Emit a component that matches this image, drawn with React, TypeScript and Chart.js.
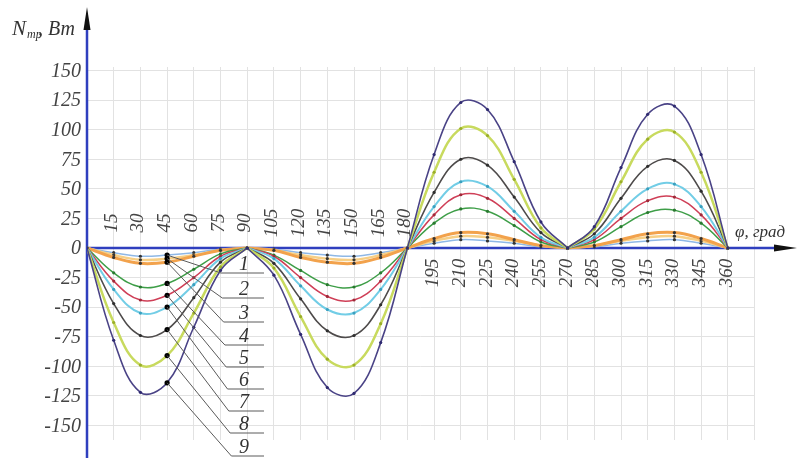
import React, { useEffect, useRef } from "react";
import { Chart, registerables } from "chart.js";

Chart.register(...registerables);

const angles = [0, 15, 30, 45, 60, 75, 90, 105, 120, 135, 150, 165, 180, 195, 210, 225, 240, 255, 270, 285, 300, 315, 330, 345, 360];
const xTicksAbove = [15, 30, 45, 60, 75, 90, 105, 120, 135, 150, 165, 180];
const xTicksBelow = [195, 210, 225, 240, 255, 270, 285, 300, 315, 330, 345, 360];
const xGrid = [0, 15, 30, 45, 60, 75, 90, 105, 120, 135, 150, 165, 180, 195, 210, 225, 240, 255, 270, 285, 300, 315, 330, 345, 360, 375];
const yTicks = [150, 125, 100, 75, 50, 25, 0, -25, -50, -75, -100, -125, -150];
const curveNames = ["1", "2", "3", "4", "5", "6", "7", "8", "9"];
const cuspAngles = [90, 270];
const labelAngle = 45;

const curve1 = [0, -4, -7, -6, -4, -1, 0, -1, -4, -6, -7, -4, 0, 4, 7, 6, 4, 1, 0, 1, 4, 6, 7, 4, 0];
const curve2 = [0, -6, -10, -9, -6, -2, 0, -2, -6, -9, -10, -6, 0, 6, 10, 9, 6, 2, 0, 2, 6, 9, 10, 6, 0];
const curve3 = [0, -8, -13, -12, -7, -2, 0, -2, -8, -12, -13, -8, 0, 8, 13, 12, 7, 2, 0, 2, 7, 12, 13, 8, 0];
const curve4 = [0, -21, -33, -30, -18, -5, 0, -6, -19, -31, -33, -21, 0, 21, 33, 31, 19, 5, 0, 5, 18, 30, 32, 21, 0];
const curve5 = [0, -28, -44, -40, -25, -7, 0, -7, -25, -41, -44, -28, 0, 28, 45, 42, 25, 7, 0, 7, 25, 40, 43, 28, 0];
const curve6 = [0, -35, -55, -50, -31, -9, 0, -9, -32, -52, -55, -35, 0, 35, 56, 52, 31, 9, 0, 9, 31, 50, 54, 35, 0];
const curve7 = [0, -47, -74, -69, -42, -12, 0, -13, -43, -70, -74, -48, 0, 47, 75, 70, 43, 13, 0, 12, 42, 69, 74, 48, 0];
const curve8 = [0, -63, -99, -91, -55, -16, 0, -17, -58, -94, -99, -64, 0, 64, 101, 95, 58, 17, 0, 16, 56, 92, 98, 64, 0];
const curve9 = [0, -78, -122, -114, -67, -19, 0, -23, -73, -118, -123, -80, 0, 79, 123, 117, 73, 22, 0, 18, 68, 113, 120, 79, 0];
const curves = [curve1, curve2, curve3, curve4, curve5, curve6, curve7, curve8, curve9];

const colors = ["#8fb8e6", "#f6cf86", "#f2a24c", "#3e9e48", "#cf3f57", "#72cde6", "#4e4b4b", "#c8da5e", "#4a4386"];
const pointColors = ["#333", "#333", "#333", "#2a7a30", "#a02a3a", "#3aa0bf", "#2f2f2f", "#9aae2a", "#2f2a70"];
const lineWidths = [1.5, 2.5, 3, 1.5, 1.5, 2, 1.6, 2.5, 1.6];

const labelUnderlineY = [273, 298, 322, 345, 367, 389, 411, 433, 456];

const AXIS_BLUE = "#2f3fbe";
const SERIF = "'Liberation Serif', 'DejaVu Serif', serif";

function buildData(values: number[]) {
  const out: { x: number; y: number }[] = [];
  angles.forEach((a, i) => {
    out.push({ x: a, y: values[i] });
    if (cuspAngles.includes(a)) out.push({ x: a, y: values[i] });
  });
  return out;
}

const decorPlugin = {
  id: "decor",
  beforeDatasetsDraw(chart: any) {
    const ctx = chart.ctx;
    const xs = chart.scales.x;
    const ys = chart.scales.y;
    const x0 = xs.getPixelForValue(0);
    const y0 = ys.getPixelForValue(0);
    ctx.save();
    ctx.strokeStyle = AXIS_BLUE;
    ctx.lineWidth = 2.5;
    ctx.beginPath();
    ctx.moveTo(x0, 24);
    ctx.lineTo(x0, chart.height);
    ctx.stroke();
    ctx.beginPath();
    ctx.moveTo(x0, y0);
    ctx.lineTo(780, y0);
    ctx.stroke();
    ctx.restore();
  },
  afterDraw(chart: any) {
    const ctx = chart.ctx;
    const xs = chart.scales.x;
    const ys = chart.scales.y;
    const x0 = xs.getPixelForValue(0);
    const y0 = ys.getPixelForValue(0);
    ctx.save();
    // arrowheads
    ctx.fillStyle = "#111";
    ctx.beginPath();
    ctx.moveTo(x0, 7);
    ctx.lineTo(x0 - 3.5, 30);
    ctx.lineTo(x0 + 3.5, 30);
    ctx.closePath();
    ctx.fill();
    ctx.beginPath();
    ctx.moveTo(797, y0);
    ctx.lineTo(774, y0 - 3.5);
    ctx.lineTo(774, y0 + 3.5);
    ctx.closePath();
    ctx.fill();

    // y tick labels
    ctx.fillStyle = "#444";
    ctx.font = `italic 20px ${SERIF}`;
    ctx.textAlign = "right";
    ctx.textBaseline = "middle";
    yTicks.forEach((v) => {
      ctx.fillText(String(v), x0 - 6, ys.getPixelForValue(v) + 1);
    });

    // x tick labels (rotated)
    ctx.font = `italic 19px ${SERIF}`;
    ctx.textAlign = "center";
    ctx.textBaseline = "middle";
    xTicksAbove.forEach((v) => {
      ctx.save();
      ctx.translate(xs.getPixelForValue(v) - 2, y0 - 25);
      ctx.rotate(-Math.PI / 2);
      ctx.fillText(String(v), 0, 0);
      ctx.restore();
    });
    xTicksBelow.forEach((v) => {
      ctx.save();
      ctx.translate(xs.getPixelForValue(v) - 1, y0 + 25);
      ctx.rotate(-Math.PI / 2);
      ctx.fillText(String(v), 0, 0);
      ctx.restore();
    });

    // axis titles
    ctx.textAlign = "left";
    ctx.textBaseline = "alphabetic";
    ctx.fillStyle = "#333";
    ctx.font = `italic 21px ${SERIF}`;
    ctx.fillText("N", 12, 35);
    ctx.font = `italic 12px ${SERIF}`;
    ctx.fillText("тр", 27, 38);
    ctx.font = `italic 20px ${SERIF}`;
    ctx.fillText(", Вт", 38, 35);
    ctx.font = `italic 17px ${SERIF}`;
    ctx.fillText("φ, град", 735, 237);

    // curve labels with leader lines
    const idx45 = angles.indexOf(labelAngle);
    ctx.strokeStyle = "#5a5a5a";
    ctx.lineWidth = 1;
    curveNames.forEach((name, k) => {
      const px = xs.getPixelForValue(labelAngle);
      const py = ys.getPixelForValue(curves[k][idx45]);
      const uy = labelUnderlineY[k];
      const ux = 221 + k * 1.3;
      ctx.beginPath();
      ctx.moveTo(px, py);
      ctx.lineTo(ux, uy);
      ctx.lineTo(264, uy);
      ctx.stroke();
      ctx.fillStyle = "#333";
      ctx.font = `italic 20px ${SERIF}`;
      ctx.textAlign = "center";
      ctx.fillText(name, 244, uy - 3);
    });
    ctx.restore();
  },
};

export default function App() {
  const ref = useRef<HTMLCanvasElement | null>(null);
  useEffect(() => {
    if (!ref.current) return;
    const datasets = curves.map((vals, k) => ({
      label: curveNames[k],
      data: buildData(vals),
      borderColor: colors[k],
      borderWidth: lineWidths[k],
      tension: 0.4,
      fill: false,
      pointRadius: (c: any) => (c.raw && c.raw.x === labelAngle ? 2.6 : 1.6),
      pointBackgroundColor: (c: any) => (c.raw && c.raw.x === labelAngle ? "#000" : pointColors[k]),
      pointBorderWidth: 0,
      order: 9 - k,
    }));
    const chart = new Chart(ref.current, {
      type: "line",
      data: { datasets },
      options: {
        animation: false,
        responsive: false,
        devicePixelRatio: 1,
        parsing: false as any,
        layout: { padding: { left: 87, right: 43.5, top: 67, bottom: 18.4 } },
        plugins: { legend: { display: false }, tooltip: { enabled: false } },
        scales: {
          x: {
            type: "linear",
            min: 0,
            max: 375,
            afterBuildTicks: (s: any) => {
              s.ticks = xGrid.map((v) => ({ value: v }));
            },
            ticks: { display: false },
            grid: { color: "#e2e2e2", lineWidth: 1, drawTicks: false },
            border: { display: false },
          },
          y: {
            type: "linear",
            min: -162,
            max: 153,
            afterBuildTicks: (s: any) => {
              s.ticks = yTicks.map((v) => ({ value: v }));
            },
            ticks: { display: false },
            grid: { color: "#e2e2e2", lineWidth: 1, drawTicks: false },
            border: { display: false },
          },
        },
      },
      plugins: [decorPlugin],
    });
    return () => chart.destroy();
  }, []);
  return (
    <div style={{ position: "absolute", left: 0, top: 0, width: 798, height: 458, background: "#fff" }}>
      <canvas ref={ref} width={798} height={458} style={{ width: 798, height: 458 }} />
    </div>
  );
}
